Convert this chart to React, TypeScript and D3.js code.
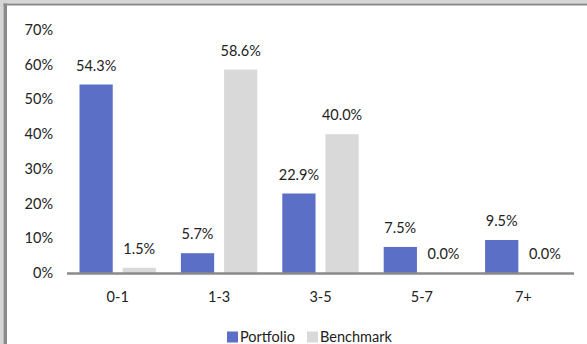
import React from "react";
import * as d3 from "d3";

const categories = ["0-1", "1-3", "3-5", "5-7", "7+"];
const portfolio = [54.3, 5.7, 22.9, 7.5, 9.5];
const benchmark = [1.5, 58.6, 40.0, 0.0, 0.0];
const seriesNames = ["Portfolio", "Benchmark"];
const yTicks = [0, 10, 20, 30, 40, 50, 60, 70];

const W = 587;
const H = 344;
const FONT = "Lato, 'Open Sans', sans-serif";
const FS = 14.5;
const COLORS = ["#5A6FC5", "#D9D9D9"];

export default function App() {
  const x = d3.scaleBand<string>().domain(categories).range([67, 574]).paddingInner(0).paddingOuter(0);
  const y = d3.scaleLinear().domain([0, 70]).range([273, 30]);
  const inner = d3.scaleBand<string>().domain(seriesNames).range([12.5, x.bandwidth() - 12.5]).paddingInner(0.23);
  const series = [portfolio, benchmark];

  return (
    <svg width={W} height={H} style={{ position: "absolute", left: 0, top: 0, background: "#fff" }}>
      <rect x={0} y={0} width={W} height={3.5} fill="#d6d6d6" />
      <rect x={0} y={0} width={3.5} height={H} fill="#d6d6d6" />
      <rect x={3.5} y={3.5} width={W} height={2} fill="#8a8a8a" />
      <rect x={3.5} y={3.5} width={3.5} height={H} fill="#8a8a8a" />

      {yTicks.map((t) => (
        <text key={t} x={53} y={y(t) + 5} textAnchor="end" fontFamily={FONT} fontSize={FS} fill="#222">
          {t}%
        </text>
      ))}

      {categories.map((c, i) => (
        <g key={c} transform={`translate(${x(c)},0)`}>
          {series.map((s, j) => {
            const v = s[i];
            const bx = inner(seriesNames[j])!;
            const bw = inner.bandwidth();
            return (
              <g key={j}>
                <rect x={bx} y={y(v)} width={bw} height={y(0) - y(v)} fill={COLORS[j]} />
                <text x={bx + bw / 2} y={y(v) - 14} textAnchor="middle" fontFamily={FONT} fontSize={FS} fill="#222">
                  {v.toFixed(1)}%
                </text>
              </g>
            );
          })}
          <text x={x.bandwidth() / 2} y={302} textAnchor="middle" fontFamily={FONT} fontSize={FS} fill="#222">
            {c}
          </text>
        </g>
      ))}

      <line x1={67} x2={574} y1={y(0) + 0.5} y2={y(0) + 0.5} stroke="#8a8a8a" strokeWidth={2.5} />

      {seriesNames.map((n, j) => {
        const lx = [227, 307][j];
        return (
          <g key={n}>
            <rect x={lx} y={331.5} width={11} height={11} fill={COLORS[j]} />
            <text x={lx + 13} y={341.5} fontFamily={FONT} fontSize={FS} fill="#222">
              {n}
            </text>
          </g>
        );
      })}
    </svg>
  );
}
